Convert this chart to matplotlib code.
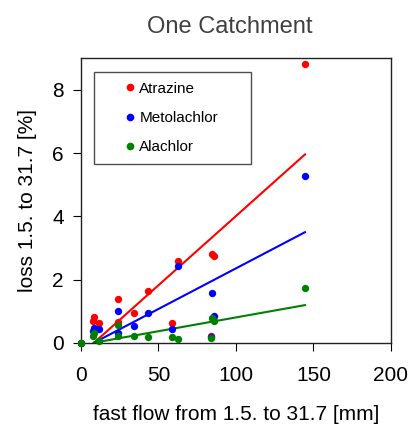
import matplotlib.pyplot as plt
from matplotlib.lines import Line2D

plt.rcParams["font.family"] = ["Liberation Sans", "DejaVu Sans"]

# fast flow [mm] per event, shared by all three compounds
fast_flow = [0, 8.4, 7.9, 11.8, 23.6, 24.0, 34.5, 43.5, 58.7, 62.6, 84.7, 85.7, 84.0, 144.3]

atrazine = [0, 0.82, 0.70, 0.63, 1.39, 0.66, 0.95, 1.65, 0.63, 2.60, 2.82, 2.74, 0.22, 8.81]
metolachlor = [0, 0.47, 0.37, 0.42, 1.01, 0.30, 0.54, 0.95, 0.43, 2.44, 1.58, 0.85, 0.17, 5.27]
alachlor = [0, 0.30, 0.21, 0.05, 0.56, 0.22, 0.22, 0.19, 0.17, 0.11, 0.79, 0.70, 0.14, 1.74]

# regression lines: (slope, intercept) over the fitted flow range
fit_range = [8.4, 144.5]
fit_atrazine = (0.0438, -0.37)
fit_metolachlor = (0.0257, -0.216)
fit_alachlor = (0.00874, -0.073)

series = [
    ("Atrazine", atrazine, fit_atrazine, "#ff0000"),
    ("Metolachlor", metolachlor, fit_metolachlor, "#0000ff"),
    ("Alachlor", alachlor, fit_alachlor, "#008000"),
]

fig = plt.figure(figsize=(4.12, 4.26), dpi=100)
ax = fig.add_axes([0.1966, 0.1955, 0.7524, 0.6675])

for name, values, (slope, intercept), color in series:
    ax.scatter(fast_flow, values, s=28, color=color, zorder=3, clip_on=False, linewidths=0)
    ax.plot(fit_range, [slope * x + intercept for x in fit_range], color=color, lw=1.5, zorder=2)

ax.set_xlim(0, 200)
ax.set_ylim(0, 9)
ax.set_xticks([0, 50, 100, 150, 200])
ax.set_yticks([0, 2, 4, 6, 8])
ax.tick_params(direction="out", length=5.5, width=0.8, labelsize=15, pad=7)
ax.tick_params(axis="x", pad=11)
for spine in ax.spines.values():
    spine.set_linewidth(1.0)
    spine.set_color("#222222")

ax.set_xlabel("fast flow from 1.5. to 31.7 [mm]", fontsize=15, labelpad=15)
ax.set_ylabel("loss 1.5. to 31.7 [%]", fontsize=15, labelpad=11)
ax.set_title("One Catchment", fontsize=17, color="#404040", pad=18, x=0.48)

handles = [
    Line2D([], [], marker="o", ls="none", markersize=5.5, markeredgewidth=0, color=c, label=n)
    for n, _, _, c in series
]
leg = ax.legend(handles=handles, loc="upper left", bbox_to_anchor=(0.043, 0.631, 0.505, 0.322),
                mode="expand", fontsize=11, frameon=True, fancybox=False, borderaxespad=0,
                handletextpad=-1.1, labelspacing=1.0, borderpad=0.65, handlelength=3.4)
leg.get_frame().set_edgecolor("#222222")
leg.get_frame().set_linewidth(1.0)

fig.savefig("out.png", dpi=100)
